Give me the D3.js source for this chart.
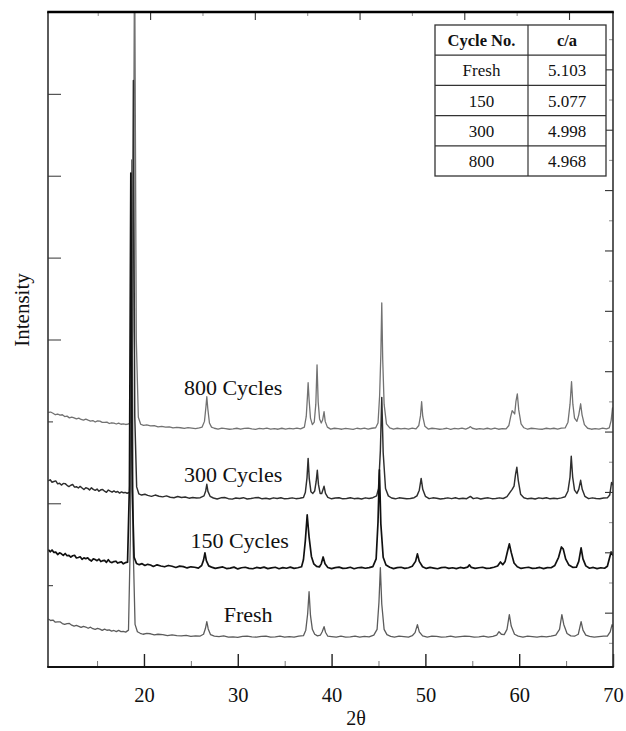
<!DOCTYPE html>
<html>
<head>
<meta charset="utf-8">
<script src="https://cdn.jsdelivr.net/npm/d3@7"></script>
<style>
  html, body { margin: 0; padding: 0; background: #fff; }
  svg { display: block; }
  svg text { font-family: "Liberation Serif", "Times New Roman", Times, serif; }
</style>
</head>
<body>
<svg id="chart" width="626" height="731"></svg>
<script>
// XRD patterns of the cathode after cycling: [2θ (deg), intensity (counts above the pattern's own baseline)]
const seriesNames = ["Fresh", "150 Cycles", "300 Cycles", "800 Cycles"];
// vertical stacking offsets applied to each pattern (counts)
const stackOffset = [370, 1210, 2060, 2910];

const freshScan = [
  [9.8,217],[10.05,198],[10.3,203],[10.55,177],[10.8,182],[11.05,182],[11.3,161],[11.55,151],[11.8,160],
  [12.05,161],[12.3,141],[12.55,129],[12.8,138],[13.05,127],[13.3,113],[13.55,127],[13.8,118],[14.05,103],
  [14.3,116],[14.55,98],[14.8,90],[15.05,101],[15.3,93],[15.55,78],[15.8,93],[16.05,79],[16.3,84],[16.55,69],
  [16.8,76],[17.05,62],[17.3,77],[17.55,63],[17.8,64],[18.05,56],
  [18.35,80],[18.55,1200],[18.7,5824],[18.85,1100],[19.05,150],[19.3,60],
  [19.6,42],[19.9,30],[20.3,40],[20.7,36],[21.1,22],[21.5,30],[22.0,26],[22.5,12],[23.0,22],[23.5,14],[24.0,10],
  [24.5,16],[25.0,4],[25.5,10],[26.0,8],
  [26.35,30],[26.55,100],[26.7,183],[26.85,95],[27.1,25],
  [27.5,8],[28.0,2],[28.5,10],[29.0,-4],[29.5,-2],[30.0,-8],[30.5,4],[31.0,6],[31.5,-2],[32.0,-6],[32.5,4],
  [33.0,8],[33.5,-6],[34.0,-2],[34.5,6],[35.0,-6],[35.5,2],[36.0,-4],[36.5,8],[37.0,12],
  [37.25,80],[37.45,280],[37.6,550],[37.75,260],[37.95,90],[38.2,30],[38.5,10],
  [38.8,18],[39.0,60],[39.2,122],[39.35,55],[39.6,6],[40.0,2],[40.5,-6],[41.0,6],[41.5,-4],[42.0,-2],[42.5,8],
  [43.0,-6],[43.5,4],[44.0,-2],[44.5,20],
  [44.85,90],[45.05,420],[45.2,843],[45.35,400],[45.6,90],[45.9,25],[46.3,4],
  [46.7,-6],[47.2,6],[47.7,2],[48.2,-4],[48.6,12],[48.9,50],[49.15,147],[49.35,60],[49.7,10],[50.2,-4],[50.7,6],
  [51.2,4],[51.7,-6],[52.2,-2],[52.7,6],[53.2,-6],[53.7,2],[54.2,8],[54.7,4],[55.2,-6],[55.7,-2],[56.2,6],
  [56.7,-4],[57.2,4],[57.6,20],[57.85,61],[58.1,30],[58.4,25],[58.7,90],[58.95,269],[59.15,130],[59.5,30],
  [59.9,8],[60.4,-4],[60.9,6],[61.4,2],[61.9,-6],[62.4,4],[62.9,-2],[63.4,6],[63.9,20],[64.3,90],[64.55,269],
  [64.75,150],[65.1,40],[65.5,10],[65.9,6],[66.3,30],[66.6,183],[66.8,80],[67.1,20],[67.5,4],[68.0,-6],[68.5,2],
  [69.0,6],[69.4,8],[69.7,60],[69.9,147],[70.0,120]
];

const cycles150Scan = [
  [9.8,223],[10.0,197],[10.2,219],[10.4,189],[10.6,193],[10.8,163],[11.0,185],[11.2,172],[11.4,153],[11.6,176],
  [11.8,149],[12.0,154],[12.2,132],[12.4,149],[12.6,155],[12.8,122],[13.0,128],[13.2,136],[13.4,105],[13.6,123],
  [13.8,112],[14.0,124],[14.2,99],[14.4,84],[14.6,111],[14.8,102],[15.0,89],[15.2,108],[15.4,78],[15.6,89],
  [15.8,93],[16.0,68],[16.2,100],[16.4,73],[16.6,65],[16.8,78],[17.0,82],[17.2,60],[17.4,68],[17.6,74],
  [17.8,50],[18.0,64],
  [18.25,70],[18.45,1000],[18.6,4823],[18.75,950],[18.95,130],[19.2,55],
  [19.5,40],[19.8,52],[20.1,30],[20.4,44],[20.7,36],[21.0,18],[21.4,38],[21.8,24],[22.2,14],[22.6,30],[23.0,20],
  [23.4,6],[23.8,22],[24.2,16],[24.6,0],[25.0,14],[25.4,8],[25.8,-2],
  [26.15,30],[26.35,95],[26.5,183],[26.65,90],[26.9,25],
  [27.2,10],[27.6,-6],[28.0,4],[28.4,12],[28.8,-8],[29.2,-2],[29.6,10],[30.0,-12],[30.4,2],[30.8,8],[31.2,-6],
  [31.6,-10],[32.0,6],[32.4,-2],[32.8,10],[33.2,-8],[33.6,0],[34.0,8],[34.4,-10],[34.8,4],[35.2,-4],[35.6,10],
  [36.0,-6],[36.4,2],[36.8,14],
  [37.0,100],[37.2,330],[37.4,647],[37.6,380],[37.85,140],[38.1,50],[38.4,18],
  [38.7,12],[38.9,50],[39.1,134],[39.3,50],[39.6,6],[40.0,-8],[40.4,4],[40.8,10],[41.2,-6],[41.6,-2],[42.0,8],
  [42.4,-10],[42.8,2],[43.2,6],[43.6,-4],[44.0,4],[44.4,16],
  [44.75,110],[44.95,560],[45.1,1197],[45.25,540],[45.5,130],[45.8,35],[46.2,8],
  [46.6,-8],[47.0,4],[47.4,8],[47.8,-6],[48.2,2],[48.6,20],[48.95,80],[49.15,171],[49.35,80],[49.7,14],
  [50.1,-6],[50.5,6],[50.9,-2],[51.3,-10],[51.7,4],[52.1,8],[52.5,-6],[52.9,2],[53.3,-8],[53.7,6],[54.1,-2],
  [54.5,10],[54.7,37],[54.9,6],[55.3,-6],[55.7,2],[56.1,8],[56.5,-6],[56.9,-2],[57.3,8],[57.7,24],[58.0,73],
  [58.25,40],[58.5,80],[58.75,200],[58.95,293],[59.15,190],[59.45,60],[59.8,14],[60.2,-6],[60.6,2],[61.0,8],
  [61.4,-6],[61.8,-2],[62.2,6],[62.6,-8],[63.0,4],[63.4,2],[63.8,30],[64.2,130],[64.5,256],[64.7,230],
  [64.95,110],[65.3,35],[65.7,8],[66.1,10],[66.35,80],[66.6,244],[66.8,110],[67.1,25],[67.5,-4],[67.9,6],
  [68.3,-8],[68.7,2],[69.1,-4],[69.4,20],[69.6,110],[69.8,195],[70.0,150]
];

const cycles300Scan = [
  [9.8,213],[10.0,227],[10.2,197],[10.4,205],[10.6,213],[10.8,177],[11.0,185],[11.2,162],[11.4,181],[11.6,180],
  [11.8,159],[12.0,144],[12.2,160],[12.4,169],[12.6,137],[12.8,142],[13.0,126],[13.2,146],[13.4,127],[13.6,107],
  [13.8,130],[14.0,122],[14.2,103],[14.4,128],[14.6,109],[14.8,98],[15.0,113],[15.2,86],[15.4,104],[15.6,107],
  [15.8,87],[16.0,74],[16.2,102],[16.4,87],[16.6,75],[16.8,90],[17.0,74],[17.2,84],[17.4,64],[17.6,78],
  [17.8,68],[18.0,72],[18.2,62],
  [18.5,75],[18.72,1050],[18.87,5104],[19.02,1000],[19.22,140],[19.45,55],
  [19.75,40],[20.1,50],[20.4,36],[20.8,24],[21.2,40],[21.6,26],[22.0,18],[22.4,30],[22.8,14],[23.2,8],[23.6,22],
  [24.0,10],[24.4,16],[24.8,2],[25.2,10],[25.6,4],[26.0,8],
  [26.4,30],[26.58,90],[26.7,171],[26.82,85],[27.05,25],
  [27.4,4],[27.8,-8],[28.2,6],[28.6,10],[29.0,-4],[29.4,-10],[29.8,4],[30.2,-2],[30.6,8],[31.0,-8],[31.4,-2],
  [31.8,6],[32.2,10],[32.6,-6],[33.0,2],[33.4,-8],[33.8,6],[34.2,-2],[34.6,8],[35.0,-6],[35.4,-2],[35.8,6],
  [36.2,-4],[36.6,2],[37.0,10],
  [37.2,70],[37.38,250],[37.5,488],[37.62,240],[37.8,80],
  [38.0,60],[38.2,90],[38.35,200],[38.48,342],[38.6,170],[38.78,60],
  [38.95,60],[39.2,147],[39.35,60],[39.6,12],[40.0,-6],[40.4,4],[40.8,8],[41.2,-6],[41.6,-2],[42.0,8],[42.4,-4],
  [42.8,2],[43.2,-8],[43.6,6],[44.0,-2],[44.4,8],[44.8,30],
  [45.0,120],[45.2,580],[45.35,1233],[45.5,560],[45.75,120],[46.05,30],[46.4,4],
  [46.8,-6],[47.2,6],[47.6,2],[48.0,-6],[48.4,-2],[48.8,8],[49.1,30],[49.35,100],[49.55,244],[49.72,110],
  [50.0,25],[50.4,-4],[50.8,6],[51.2,2],[51.6,-8],[52.0,-2],[52.4,6],[52.8,-4],[53.2,8],[53.6,-6],[54.0,2],
  [54.4,-4],[54.8,24],[55.1,-4],[55.5,6],[55.9,-8],[56.3,2],[56.7,6],[57.1,-4],[57.5,-2],[57.9,6],[58.3,-2],
  [58.7,20],[59.0,70],[59.25,110],[59.45,150],[59.62,300],[59.75,379],[59.9,220],[60.15,50],[60.5,8],
  [60.9,-6],[61.3,2],[61.7,-8],[62.1,6],[62.5,-2],[62.9,8],[63.3,-6],[63.7,2],[64.1,-4],[64.5,6],[64.9,20],
  [65.2,90],[65.42,260],[65.55,513],[65.7,260],[65.9,100],[66.15,60],[66.35,110],[66.55,220],[66.72,110],
  [67.0,25],[67.4,-4],[67.8,6],[68.2,-2],[68.6,-6],[69.0,4],[69.4,6],[69.65,40],[69.85,195],[70.0,160]
];

const cycles800Scan = [
  [9.8,201],[10.05,204],[10.3,189],[10.55,171],[10.8,180],[11.05,166],[11.3,171],[11.55,149],[11.8,154],
  [12.05,133],[12.3,143],[12.55,133],[12.8,120],[13.05,129],[13.3,113],[13.55,105],[13.8,118],[14.05,105],
  [14.3,94],[14.55,100],[14.8,82],[15.05,95],[15.3,93],[15.55,78],[15.8,77],[16.05,81],[16.3,64],[16.55,73],
  [16.8,68],[17.05,58],[17.3,69],[17.55,55],[17.8,60],[18.05,52],[18.3,56],
  [18.6,80],[18.82,1200],[19.0,6000],[19.18,1100],[19.4,140],[19.65,55],
  [19.95,40],[20.3,46],[20.7,34],[21.1,38],[21.5,22],[21.9,30],[22.3,20],[22.7,24],[23.1,10],[23.5,18],[23.9,12],
  [24.3,4],[24.7,14],[25.1,8],[25.5,2],[25.9,10],[26.2,20],
  [26.45,90],[26.6,260],[26.7,391],[26.8,250],[26.98,70],[27.2,20],
  [27.5,6],[27.9,-4],[28.3,8],[28.7,2],[29.1,-6],[29.5,-2],[29.9,6],[30.3,-6],[30.7,4],[31.1,8],[31.5,-2],
  [31.9,-8],[32.3,4],[32.7,-2],[33.1,8],[33.5,-4],[33.9,2],[34.3,-6],[34.7,6],[35.1,-4],[35.5,4],[35.9,-2],
  [36.3,8],[36.7,-2],[37.1,20],
  [37.3,150],[37.42,380],[37.5,562],[37.6,360],[37.75,130],[37.95,50],
  [38.15,80],[38.32,300],[38.45,781],[38.57,330],[38.72,120],
  [38.9,70],[39.05,110],[39.2,208],[39.32,90],[39.55,20],[39.9,-4],[40.3,6],[40.7,2],[41.1,-6],[41.5,4],
  [41.9,-2],[42.3,-8],[42.7,6],[43.1,-2],[43.5,8],[43.9,-4],[44.3,6],[44.7,12],[44.95,70],
  [45.12,400],[45.25,900],[45.35,1538],[45.45,850],[45.6,300],[45.85,60],[46.2,10],
  [46.6,-6],[47.0,6],[47.4,-2],[47.8,4],[48.2,-6],[48.6,8],[49.0,-2],[49.3,40],[49.48,160],[49.6,330],
  [49.72,150],[49.95,30],[50.3,-4],[50.7,6],[51.1,2],[51.5,-6],[51.9,-2],[52.3,6],[52.7,-8],[53.1,4],[53.5,-2],
  [53.9,8],[54.3,-4],[54.6,10],[54.8,26],[55.0,6],[55.4,-6],[55.8,2],[56.2,-4],[56.6,6],[57.0,-4],[57.4,8],
  [57.8,-6],[58.2,2],[58.6,-2],[58.9,40],[59.1,150],[59.25,220],[59.4,200],[59.52,180],[59.65,330],[59.8,427],
  [59.95,230],[60.2,60],[60.5,12],[60.9,-6],[61.3,6],[61.7,2],[62.1,-4],[62.5,-6],[62.9,6],[63.3,-2],[63.7,6],
  [64.1,-4],[64.5,8],[64.9,10],[65.2,80],[65.42,300],[65.58,574],[65.72,300],[65.9,130],[66.15,90],[66.35,170],
  [66.55,305],[66.7,170],[66.95,50],[67.3,6],[67.7,-6],[68.1,2],[68.5,-4],[68.9,8],[69.3,-2],[69.6,10],
  [69.8,100],[69.95,256],[70.0,220]
];

const scans = [freshScan, cycles150Scan, cycles300Scan, cycles800Scan];

// axis ticks
const xMajorTicks = [20, 30, 40, 50, 60, 70];
const xMinorTicks = [15, 25, 35, 45, 55, 65];
const yLeftTicks = [1000, 2000, 3000, 4000, 5000, 6000, 7000];
const yLeftShortTicks = [1000, 3000];
const rightTicks = d3.range(1, 22);
const topTicks = d3.range(1, 11);

// lattice parameter ratio table
const cycleNo = ["Fresh", "150", "300", "800"];
const caRatio = [5.103, 5.077, 4.998, 4.968];

// ---- layout ----
const serif = "Liberation Serif, Times New Roman, Times, serif";
const svg = d3.select("#chart");
const plot = { left: 48, right: 613, top: 12, bottom: 667 };

const x = d3.scaleLinear().domain([9.77, 70]).range([plot.left, plot.right]);
const y = d3.scaleLinear().domain([0, 8000]).range([plot.bottom, plot.top]);
const yRight = d3.scaleLinear().domain([0.2, 21.9]).range([plot.bottom, plot.top]);
const xTop = d3.scaleLinear().domain([0.05, 10.84]).range([plot.left, plot.right]);

svg.append("defs").append("clipPath").attr("id", "plotClip")
  .append("rect")
  .attr("x", plot.left).attr("y", plot.top)
  .attr("width", plot.right - plot.left).attr("height", plot.bottom - plot.top);

// ---- patterns ----
const strokes = ["#5c5c5c", "#111111", "#2e2e2e", "#727272"];
const widths = [1.3, 1.7, 1.45, 1.3];
const drawOrder = [3, 2, 0, 1];

const traces = svg.append("g").attr("clip-path", "url(#plotClip)");
drawOrder.forEach(i => {
  const line = d3.line()
    .x(d => x(d[0]))
    .y(d => y(d[1] + stackOffset[i]));
  traces.append("path")
    .datum(scans[i])
    .attr("fill", "none")
    .attr("stroke", strokes[i])
    .attr("stroke-width", widths[i])
    .attr("stroke-linejoin", "round")
    .attr("d", line);
});

// ---- axes ----
const axisG = svg.append("g");

// bottom: labelled major ticks plus minor ticks, drawn inward
const bottomAxis = axisG.append("g").attr("transform", `translate(0,${plot.bottom})`)
  .call(d3.axisBottom(x).tickValues(xMajorTicks).tickFormat(d3.format("d"))
    .tickSizeInner(-13).tickSizeOuter(0).tickPadding(20.5));
bottomAxis.attr("font-family", serif);
bottomAxis.select(".domain").remove();
bottomAxis.selectAll(".tick line").attr("stroke", "#222").attr("stroke-width", 1.4);
bottomAxis.selectAll(".tick text")
  .attr("font-family", serif).attr("font-size", 20.5).attr("fill", "#111");

const bottomMinor = axisG.append("g").attr("transform", `translate(0,${plot.bottom})`)
  .call(d3.axisBottom(x).tickValues(xMinorTicks).tickFormat("").tickSizeInner(-6).tickSizeOuter(0));
bottomMinor.select(".domain").remove();
bottomMinor.selectAll(".tick line").attr("stroke", "#777").attr("stroke-width", 1);

// left: unlabelled intensity ticks
const leftAxis = axisG.append("g").attr("transform", `translate(${plot.left},0)`)
  .call(d3.axisLeft(y).tickValues(yLeftTicks).tickFormat("").tickSizeOuter(0));
leftAxis.select(".domain").remove();
leftAxis.selectAll(".tick line")
  .attr("x2", d => yLeftShortTicks.includes(d) ? 5 : 13)
  .attr("stroke", "#555").attr("stroke-width", 1.2);

// right: alternating long/short ticks
const rightAxis = axisG.append("g").attr("transform", `translate(${plot.right},0)`)
  .call(d3.axisRight(yRight).tickValues(rightTicks).tickFormat("").tickSizeOuter(0));
rightAxis.select(".domain").remove();
rightAxis.selectAll(".tick line")
  .attr("x2", d => d % 2 === 0 ? -8 : -4)
  .attr("stroke", d => d % 2 === 0 ? "#333" : "#999").attr("stroke-width", 1.1);

// top: alternating long/short ticks
const topAxis = axisG.append("g").attr("transform", `translate(0,${plot.top})`)
  .call(d3.axisTop(xTop).tickValues(topTicks).tickFormat("").tickSizeOuter(0));
topAxis.select(".domain").remove();
topAxis.selectAll(".tick line")
  .attr("y2", d => d % 2 === 0 ? 8 : 4)
  .attr("stroke", d => d % 2 === 0 ? "#333" : "#999").attr("stroke-width", 1.1);

// frame
axisG.append("line").attr("x1", plot.left).attr("x2", plot.left).attr("y1", plot.top).attr("y2", plot.bottom)
  .attr("stroke", "#333").attr("stroke-width", 1.6);
axisG.append("line").attr("x1", plot.right).attr("x2", plot.right).attr("y1", plot.top).attr("y2", plot.bottom)
  .attr("stroke", "#333").attr("stroke-width", 1.6);
axisG.append("line").attr("x1", plot.left - 0.8).attr("x2", plot.right + 0.8).attr("y1", plot.top).attr("y2", plot.top)
  .attr("stroke", "#000").attr("stroke-width", 2.6);
axisG.append("line").attr("x1", plot.left - 0.8).attr("x2", plot.right + 0.8).attr("y1", plot.bottom).attr("y2", plot.bottom)
  .attr("stroke", "#111").attr("stroke-width", 2);

// axis titles
svg.append("text")
  .attr("transform", `translate(29,310) rotate(-90)`)
  .attr("text-anchor", "middle")
  .attr("font-family", serif).attr("font-size", 21).attr("fill", "#111")
  .text("Intensity");
svg.append("text")
  .attr("x", 356).attr("y", 725)
  .attr("text-anchor", "middle")
  .attr("font-family", serif).attr("font-size", 20).attr("fill", "#111")
  .text("2θ");

// ---- pattern labels ----
const labelPlacement = [
  { theta: 31.1, lift: 15 },
  { theta: 30.2, lift: 20 },
  { theta: 29.5, lift: 16 },
  { theta: 29.5, lift: 34 }
];
seriesNames.forEach((name, i) => {
  svg.append("text")
    .attr("x", x(labelPlacement[i].theta))
    .attr("y", y(stackOffset[i]) - labelPlacement[i].lift)
    .attr("text-anchor", "middle")
    .attr("font-family", serif).attr("font-size", 22).attr("fill", "#111")
    .text(name);
});

// ---- c/a table ----
const table = { x0: 435, x1: 606, xMid: 528, y0: 25, rowH: 30.2 };
const tg = svg.append("g").attr("font-family", serif);
const nRows = cycleNo.length + 1;
tg.append("rect")
  .attr("x", table.x0).attr("y", table.y0)
  .attr("width", table.x1 - table.x0).attr("height", table.rowH * nRows)
  .attr("fill", "#fff").attr("stroke", "#333").attr("stroke-width", 1.3);
tg.append("line").attr("x1", table.xMid).attr("x2", table.xMid)
  .attr("y1", table.y0).attr("y2", table.y0 + table.rowH * nRows)
  .attr("stroke", "#333").attr("stroke-width", 1.2);
d3.range(1, nRows).forEach(r => {
  tg.append("line").attr("x1", table.x0).attr("x2", table.x1)
    .attr("y1", table.y0 + r * table.rowH).attr("y2", table.y0 + r * table.rowH)
    .attr("stroke", "#333").attr("stroke-width", 1.2);
});
const c1 = (table.x0 + table.xMid) / 2, c2 = (table.xMid + table.x1) / 2;
const rowText = (r) => table.y0 + r * table.rowH + table.rowH / 2 + 6;
tg.append("text").attr("x", c1).attr("y", rowText(0)).attr("text-anchor", "middle")
  .attr("font-size", 16.5).attr("font-weight", "bold").attr("fill", "#111").text("Cycle No.");
tg.append("text").attr("x", c2).attr("y", rowText(0)).attr("text-anchor", "middle")
  .attr("font-size", 16.5).attr("font-weight", "bold").attr("fill", "#111").text("c/a");
cycleNo.forEach((c, i) => {
  tg.append("text").attr("x", c1).attr("y", rowText(i + 1)).attr("text-anchor", "middle")
    .attr("font-size", 17).attr("fill", "#111").text(c);
  tg.append("text").attr("x", c2).attr("y", rowText(i + 1)).attr("text-anchor", "middle")
    .attr("font-size", 17).attr("fill", "#111").text(d3.format(".3f")(caRatio[i]));
});
</script>
</body>
</html>
